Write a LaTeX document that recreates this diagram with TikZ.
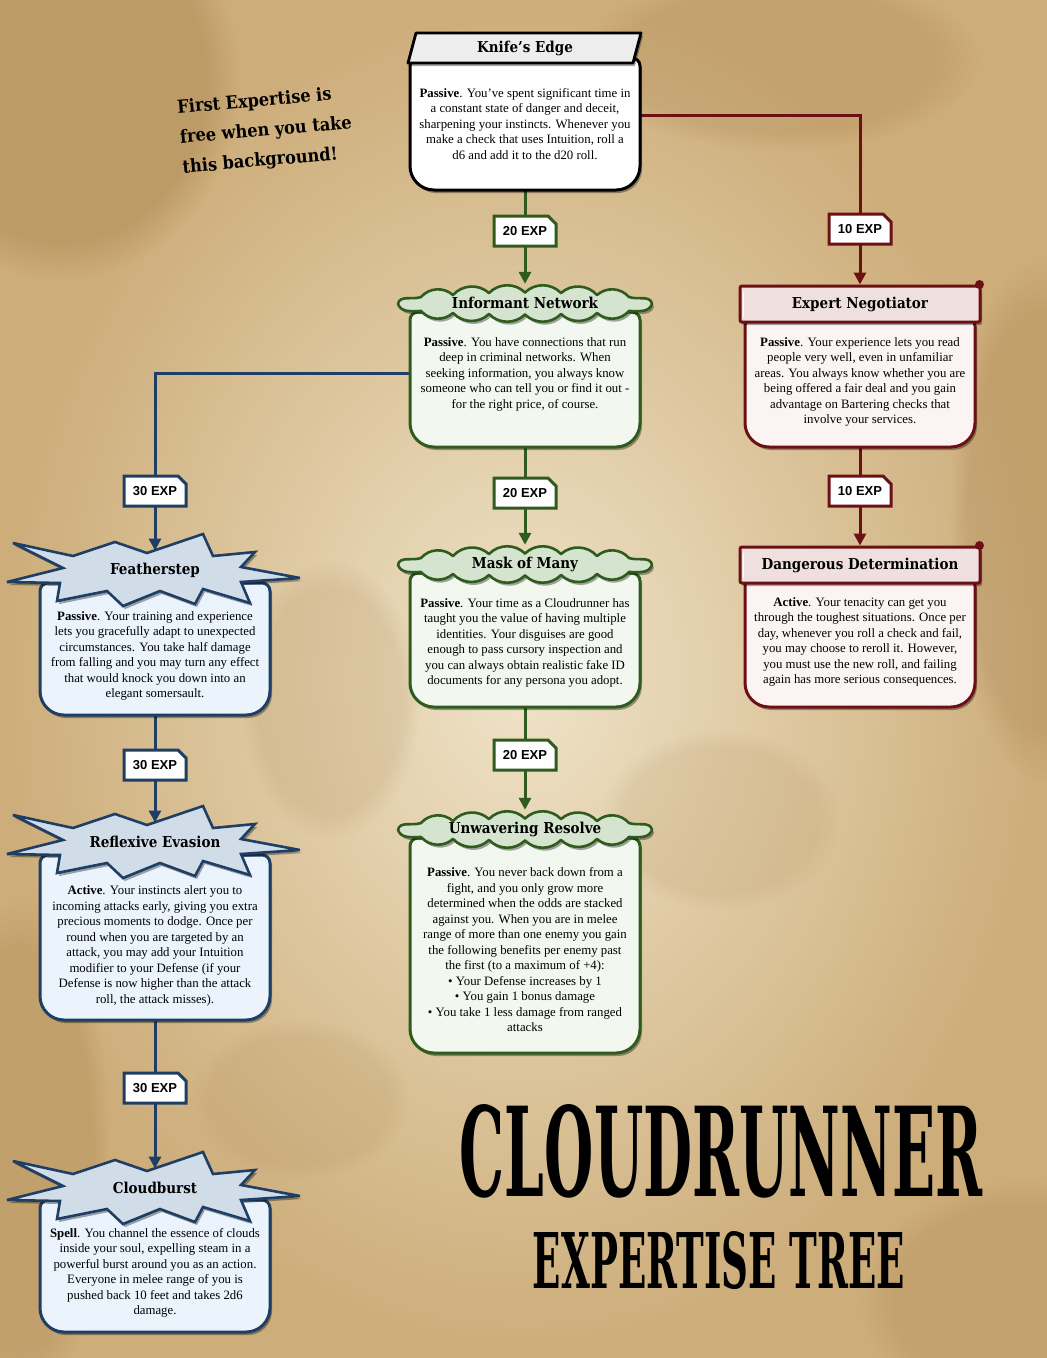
\documentclass[tikz,border=0pt]{standalone}
\usepackage{graphicx}
\usepackage{fontspec}
\setmainfont{Liberation Serif}
\newfontfamily\labelfont{Liberation Sans}
\IfFontExistsTF{DejaVu Serif Condensed}
  {\newfontfamily\gothic{DejaVu Serif Condensed}}
  {\newfontfamily\gothic{Liberation Serif}}
\usetikzlibrary{shapes.misc,shadows,calc,arrows.meta,fadings}

\pgfdeclarelayer{bg}
\pgfdeclarelayer{back}
\pgfdeclarelayer{boxes}
\pgfdeclarelayer{heads}
\pgfsetlayers{bg,back,boxes,heads,main}

\definecolor{parchIn}{HTML}{EFE3C8}
\definecolor{parchOut}{HTML}{CDAD7A}
\definecolor{blot}{HTML}{A07A45}
\definecolor{grnline}{HTML}{2F5B1E}
\definecolor{grnfill}{HTML}{F2F8F0}
\definecolor{grncloud}{HTML}{D4E4CE}
\definecolor{redline}{HTML}{6B1014}
\definecolor{redfill}{HTML}{FCF3F3}
\definecolor{redhead}{HTML}{F0DFDF}
\definecolor{blueline}{HTML}{1F3E63}
\definecolor{bluefill}{HTML}{EBF3FC}
\definecolor{blueburst}{HTML}{D0DCE8}
\definecolor{kehead}{HTML}{EDEDED}

\newcommand\hdfont{\gothic\bfseries\fontsize{15}{15}\selectfont}

% body panel: small top corners, large bottom corners
\newcommand\boxshape[2]{%
  \draw[#2] let \p1=(#1.north west), \p2=(#1.south east) in
    (\x1,{\y1-8pt}) arc[start angle=180,end angle=90,radius=8pt]
    -- ({\x2-8pt},\y1) arc[start angle=90,end angle=0,radius=8pt]
    -- (\x2,{\y2+24pt}) arc[start angle=0,end angle=-90,radius=24pt]
    -- ({\x1+24pt},\y2) arc[start angle=270,end angle=180,radius=24pt]
    -- cycle;}

% spiky banner behind the blue titles
\newcommand\burstat[2]{%
  \draw[burstshape, shift={(#1,#2)}]
    (-142,-27) -- (-82,-14) -- (-40,-28) -- (-8,-17) -- (48,-36) -- (58,-14)
    -- (100,-18) -- (86,-3) -- (145,8) -- (86,12) -- (95,33) -- (48,19)
    -- (40,34) -- (5,21) -- (-32,36) -- (-48,21) -- (-98,31) -- (-95,13)
    -- (-148,12) -- (-92,-2) -- cycle;}

% puffy banner behind the green titles
\newcommand\cloudat[2]{%
  \draw[cloudshape, shift={(#1,#2)}]
    (-127,1) to[out=80,in=200] (-104,-6)
    to[bend left=45] (-72,-8) to[bend left=45] (-36,-10) to[bend left=45] (0,-10.5)
    to[bend left=45] (36,-10) to[bend left=45] (72,-8)
    to[bend left=45] (104,-6) to[out=-20,in=100] (127,1)
    to[out=250,in=0] (104,8)
    to[bend left=45] (72,10) to[bend left=45] (36,11) to[bend left=45] (0,11.5)
    to[bend left=45] (-36,11) to[bend left=45] (-72,10)
    to[bend left=45] (-104,8) to[out=180,in=290] (-127,1) -- cycle;}

\begin{document}
\begin{tikzpicture}[x=1pt,y=-1pt,
  softshadow/.style={drop shadow={shadow xshift=2pt,shadow yshift=-3pt,opacity=.35,fill=black}},
  panel/.style={minimum width=230pt, inner sep=0pt, outer sep=0pt},
  bodytext/.style={font=\fontsize{12.8}{15.5}\selectfont, align=center, inner sep=0pt},
  hdtext/.style={font=\hdfont, inner sep=1pt},
  kebox/.style={draw=black, line width=3pt, fill=white, softshadow},
  grnbox/.style={draw=grnline, line width=3pt, fill=grnfill, softshadow},
  redbox/.style={draw=redline, line width=3pt, fill=redfill, softshadow},
  bluebox/.style={draw=blueline, line width=3pt, fill=bluefill, softshadow},
  kehdshape/.style={draw=black, line width=2.8pt, fill=kehead, softshadow, line join=round},
  cloudshape/.style={draw=grnline, fill=grncloud, line width=2.6pt, line join=round, softshadow},
  scrollhead/.style={rectangle, rounded corners=2pt, minimum width=240pt, minimum height=36pt,
    draw=redline, fill=redhead, line width=3pt, font=\hdfont, softshadow},
  burstshape/.style={draw=blueline, fill=blueburst, line width=2.6pt, miter limit=4, softshadow},
  cost/.style={chamfered rectangle, chamfered rectangle corners=north east,
    chamfered rectangle xsep=4pt, chamfered rectangle ysep=4pt,
    minimum width=62pt, minimum height=30pt, inner sep=2pt,
    draw=#1, fill=white, line width=3pt,
    font=\labelfont\bfseries\fontsize{13}{13}\selectfont},
  wire/.style={draw=#1, line width=3pt, -{Triangle[width=12pt,length=12pt]}}
]
\useasboundingbox (0,0) rectangle (1047,1358);

% parchment
\begin{pgfonlayer}{bg}
  \shade[inner color=parchIn, outer color=parchOut] (0,0) rectangle (1047,1358);
  \fill[blot, opacity=.35, path fading=circle with fuzzy edge 20 percent] (60,80) ellipse (180pt and 200pt);
  \fill[blot, opacity=.25, path fading=circle with fuzzy edge 20 percent] (1040,520) ellipse (90pt and 260pt);
  \fill[blot, opacity=.25, path fading=circle with fuzzy edge 20 percent] (20,1150) ellipse (90pt and 250pt);
  \fill[blot, opacity=.2, path fading=circle with fuzzy edge 20 percent] (780,60) ellipse (200pt and 90pt);
  \fill[blot, opacity=.2, path fading=circle with fuzzy edge 20 percent] (1020,1300) ellipse (160pt and 120pt);
  \fill[blot, opacity=.15, path fading=circle with fuzzy edge 20 percent] (330,700) ellipse (90pt and 140pt);
  \fill[blot, opacity=.12, path fading=circle with fuzzy edge 20 percent] (720,820) ellipse (120pt and 90pt);
  \fill[blot, opacity=.12, path fading=circle with fuzzy edge 20 percent] (300,1100) ellipse (110pt and 80pt);
\end{pgfonlayer}

% panel areas
\node[panel, minimum height=132pt] (ke) at (525,124) {};
\node[panel, minimum height=135pt] (in) at (525,379.5) {};
\node[panel, minimum height=134pt] (mm) at (525,640) {};
\node[panel, minimum height=215pt] (ur) at (525,945.5) {};
\node[panel, minimum height=129pt] (en) at (860,382.5) {};
\node[panel, minimum height=129pt] (dd) at (860,642.5) {};
\node[panel, minimum height=132pt] (fs) at (155,649) {};
\node[panel, minimum height=165pt] (re) at (155,937.5) {};
\node[panel, minimum height=132pt] (cb) at (155,1266) {};

% headers
\node[hdtext] (ke-h) at (525,48) {Knife’s Edge};
\node[hdtext, minimum height=38pt] (in-h) at (525,303) {Informant Network};
\node[hdtext, minimum height=38pt] (mm-h) at (525,564) {Mask of Many};
\node[hdtext, minimum height=38pt] (ur-h) at (525,829) {Unwavering Resolve};
\node[scrollhead] (en-h) at (860,304) {Expert Negotiator};
\node[scrollhead] (dd-h) at (860,565) {Dangerous Determination};
\node[hdtext] (fs-h) at (155,570) {Featherstep};
\node[hdtext] (re-h) at (155,842) {Reflexive Evasion};
\node[hdtext] (cb-h) at (155,1188) {Cloudburst};
\coordinate (fs-top) at (155,550.5);
\coordinate (re-top) at (155,822.5);
\coordinate (cb-top) at (155,1168.5);

% scroll details on the red banners
\foreach \h in {en-h,dd-h}{
  \fill[redline] ($(\h.north east)+(-2,0)$) circle (4.5pt);
  \draw[white, line width=1.2pt] ($(\h.north west)+(5,7)$) -- ($(\h.south west)+(5,-7)$);
}

% descriptions
\node[bodytext] (ke-t) at (525,124) {\textbf{Passive}. You’ve spent significant time in\\a constant state of danger and deceit,\\sharpening your instincts. Whenever you\\make a check that uses Intuition, roll a\\d6 and add it to the d20 roll.};
\node[bodytext] (in-t) at (525,374) {\textbf{Passive}. You have connections that run\\deep in criminal networks. When\\seeking information, you always know\\someone who can tell you or find it out -\\for the right price, of course.};
\node[bodytext] (mm-t) at (525,643) {\textbf{Passive}. Your time as a Cloudrunner has\\taught you the value of having multiple\\identities. Your disguises are good\\enough to pass cursory inspection and\\you can always obtain realistic fake ID\\documents for any persona you adopt.};
\node[bodytext] (ur-t) at (525,950) {\textbf{Passive}. You never back down from a\\fight, and you only grow more\\determined when the odds are stacked\\against you. When you are in melee\\range of more than one enemy you gain\\the following benefits per enemy past\\the first (to a maximum of +4):\\• Your Defense increases by 1\\• You gain 1 bonus damage\\• You take 1 less damage from ranged\\attacks};
\node[bodytext] (en-t) at (860,382) {\textbf{Passive}. Your experience lets you read\\people very well, even in unfamiliar\\areas. You always know whether you are\\being offered a fair deal and you gain\\advantage on Bartering checks that\\involve your services.};
\node[bodytext] (dd-t) at (860,642) {\textbf{Active}. Your tenacity can get you\\through the toughest situations. Once per\\day, whenever you roll a check and fail,\\you may choose to reroll it. However,\\you must use the new roll, and failing\\again has more serious consequences.};
\node[bodytext] (fs-t) at (155,656) {\textbf{Passive}. Your training and experience\\lets you gracefully adapt to unexpected\\circumstances. You take half damage\\from falling and you may turn any effect\\that would knock you down into an\\elegant somersault.};
\node[bodytext] (re-t) at (155,946) {\textbf{Active}. Your instincts alert you to\\incoming attacks early, giving you extra\\precious moments to dodge. Once per\\round when you are targeted by an\\attack, you may add your Intuition\\modifier to your Defense (if your\\Defense is now higher than the attack\\roll, the attack misses).};
\node[bodytext] (cb-t) at (155,1273) {\textbf{Spell}. You channel the essence of clouds\\inside your soul, expelling steam in a\\powerful burst around you as an action.\\Everyone in melee range of you is\\pushed back 10 feet and takes 2d6\\damage.};

% costs
\node[cost=grnline] (c-in) at (525,231) {20 EXP};
\node[cost=redline] (c-en) at (860,229) {10 EXP};
\node[cost=blueline] (c-fs) at (155,491) {30 EXP};
\node[cost=grnline] (c-mm) at (525,493) {20 EXP};
\node[cost=redline] (c-dd) at (860,491) {10 EXP};
\node[cost=grnline] (c-ur) at (525,755) {20 EXP};
\node[cost=blueline] (c-re) at (155,765) {30 EXP};
\node[cost=blueline] (c-cb) at (155,1088) {30 EXP};

% connectors
\begin{pgfonlayer}{back}
  \draw[wire=grnline] (ke.south) -- (in-h.north);
  \draw[wire=redline] ($(ke.east)+(0,-9)$) -| (en-h.north);
  \draw[wire=blueline] ($(in.west)+(0,-6.5)$) -| (fs-top);
  \draw[wire=grnline] (in.south) -- (mm-h.north);
  \draw[wire=grnline] (mm.south) -- (ur-h.north);
  \draw[wire=redline] (en.south) -- (dd-h.north);
  \draw[wire=blueline] (fs.south) -- (re-top);
  \draw[wire=blueline] (re.south) -- (cb-top);
\end{pgfonlayer}

% panels
\begin{pgfonlayer}{boxes}
  \boxshape{ke}{kebox}
  \boxshape{in}{grnbox}
  \boxshape{mm}{grnbox}
  \boxshape{ur}{grnbox}
  \boxshape{en}{redbox}
  \boxshape{dd}{redbox}
  \boxshape{fs}{bluebox}
  \boxshape{re}{bluebox}
  \boxshape{cb}{bluebox}
\end{pgfonlayer}

% banner shapes
\begin{pgfonlayer}{heads}
  \draw[kehdshape] (416,33) -- (641,33) -- (633,63) -- (408,63) -- cycle;
  \cloudat{525}{303}
  \cloudat{525}{564}
  \cloudat{525}{829}
  \burstat{155}{570}
  \burstat{155}{842}
  \burstat{155}{1188}
\end{pgfonlayer}

% note and title
\node[rotate=5, align=left, font=\gothic\bfseries\fontsize{18}{30}\selectfont] (note) at (266,131)
  {First Expertise is\\free when you take\\this background!};
\node (title) at (721,1151) {\resizebox{522pt}{92pt}{\gothic\bfseries CLOUDRUNNER}};
\node (subtitle) at (719,1261) {\resizebox{372pt}{57pt}{\gothic\bfseries EXPERTISE TREE}};
\end{tikzpicture}
\end{document}
